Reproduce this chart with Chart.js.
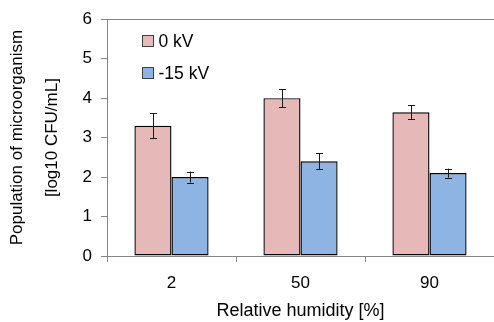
<!DOCTYPE html>
<html>
<head>
<meta charset="utf-8">
<script src="https://cdn.jsdelivr.net/npm/chart.js@4/dist/chart.umd.min.js"></script>
<style>
  html, body { margin: 0; padding: 0; background: #fff; }
  #wrap { width: 494px; height: 322px; }
</style>
</head>
<body>
<div id="wrap"><canvas id="chart" width="494" height="322"></canvas></div>
<script>
// --- data ---
const humidity = ['2', '50', '90'];
const seriesNames = ['0 kV', '-15 kV'];
const kv0 = [3.3, 4.0, 3.64];
const kv0Err = [0.32, 0.23, 0.18];
const kv15 = [2.0, 2.4, 2.1];
const kv15Err = [0.14, 0.2, 0.115];
const yTicks = [0, 1, 2, 3, 4, 5, 6];

const FONT = 'Arial, "Liberation Sans", sans-serif';
const AXIS = '#868686';

// --- error bars drawn through the y scale ---
const errorBars = {
  id: 'errorBars',
  afterDatasetsDraw(chart) {
    const ctx = chart.ctx, y = chart.scales.y;
    chart.data.datasets.forEach((ds, i) => {
      chart.getDatasetMeta(i).data.forEach((bar, j) => {
        const v = ds.data[j], e = ds.errors[j];
        const top = y.getPixelForValue(v + e), bot = y.getPixelForValue(v - e);
        ctx.save();
        ctx.strokeStyle = '#1a1a1a';
        ctx.lineWidth = 1;
        ctx.beginPath();
        const x = Math.round(bar.x) + 0.5;
        ctx.moveTo(x, top); ctx.lineTo(x, bot);
        ctx.moveTo(x - 3.5, Math.round(top) + 0.5); ctx.lineTo(x + 3.5, Math.round(top) + 0.5);
        ctx.moveTo(x - 3.5, Math.round(bot) + 0.5); ctx.lineTo(x + 3.5, Math.round(bot) + 0.5);
        ctx.stroke();
        ctx.restore();
      });
    });
  }
};

// --- top frame line + legend inside plot ---
const frameLegend = {
  id: 'frameLegend',
  afterDraw(chart) {
    const ctx = chart.ctx, a = chart.chartArea, y = chart.scales.y;
    ctx.save();
    ctx.strokeStyle = AXIS;
    ctx.lineWidth = 1;
    const ty = Math.round(y.getPixelForValue(yTicks[yTicks.length - 1])) + 0.5;
    ctx.beginPath(); ctx.moveTo(a.left, ty); ctx.lineTo(a.right, ty); ctx.stroke();

    ctx.font = '17.5px ' + FONT;
    ctx.textBaseline = 'middle';
    chart.data.datasets.forEach((ds, i) => {
      const bx = Math.round(a.left + 35) + 0.5, by = Math.round(a.top + 16 + i * 31.5) + 0.5;
      ctx.fillStyle = ds.backgroundColor;
      ctx.fillRect(bx, by, 11, 11);
      ctx.strokeStyle = '#404040';
      ctx.strokeRect(bx, by, 11, 11);
      ctx.fillStyle = '#000';
      ctx.fillText(ds.label, bx + 16, by + 6.5);
    });
    ctx.restore();
  }
};

new Chart(document.getElementById('chart'), {
  type: 'bar',
  data: {
    labels: humidity,
    datasets: [
      { label: seriesNames[0], data: kv0, errors: kv0Err, backgroundColor: '#e6b9b8', borderColor: '#000', borderWidth: 1.4, borderSkipped: false },
      { label: seriesNames[1], data: kv15, errors: kv15Err, backgroundColor: '#8eb4e3', borderColor: '#000', borderWidth: 1.4, borderSkipped: false }
    ]
  },
  options: {
    responsive: false,
    animation: false,
    categoryPercentage: 0.575,
    barPercentage: 1,
    layout: { padding: { top: 14, right: 0, left: 0, bottom: 0 } },
    plugins: { legend: { display: false }, tooltip: { enabled: false } },
    scales: {
      x: {
        offset: true,
        grid: { offset: true, drawOnChartArea: false, tickLength: 6, color: AXIS },
        border: { color: AXIS },
        ticks: { color: '#000', font: { size: 17, family: FONT }, padding: 11 },
        title: { display: true, text: 'Relative humidity [%]', color: '#000', font: { size: 18, family: FONT }, padding: { top: 0, bottom: 0 } },
        afterFit(s) { s.height = 66; }
      },
      y: {
        min: 0, max: 6,
        afterBuildTicks(s) { s.ticks = yTicks.map(v => ({ value: v })); },
        grid: { drawOnChartArea: false, tickLength: 6, color: AXIS },
        border: { color: AXIS },
        ticks: { color: '#000', font: { size: 17, family: FONT }, padding: 9 },
        title: {
          display: true,
          text: ['Population of microorganism', '[log10 CFU/mL]'],
          color: '#000',
          font: { size: 17, family: FONT, lineHeight: 2.06 },
          padding: { top: 0, bottom: 0 }
        },
        afterFit(s) { s.width = 107; }
      }
    }
  },
  plugins: [errorBars, frameLegend]
});
</script>
</body>
</html>
